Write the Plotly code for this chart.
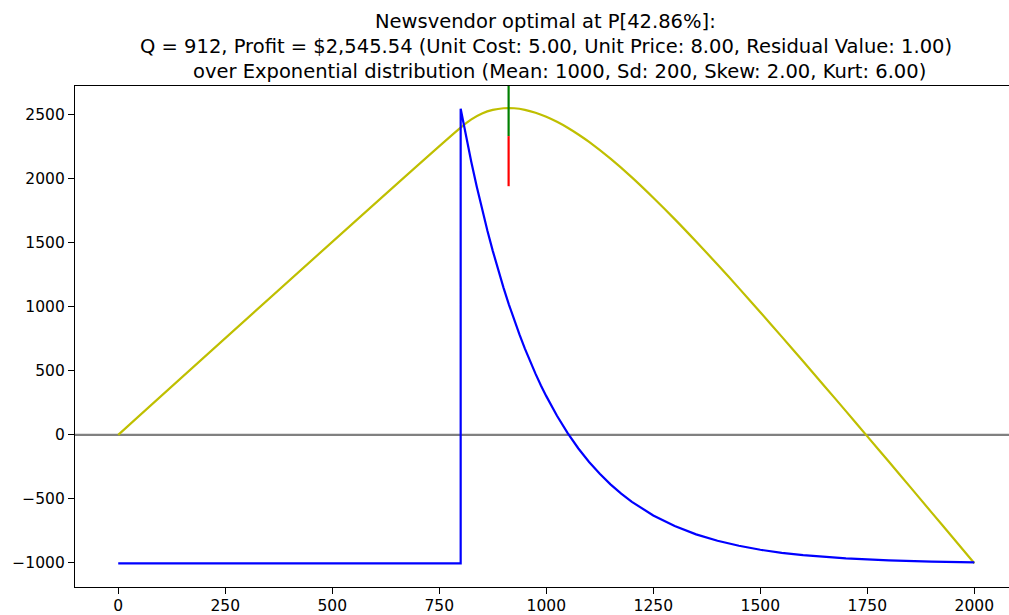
import plotly.graph_objects as go

# ---- data ----
q_profit = [0, 800, 825, 850, 875, 900, 925, 950, 975, 1000, 1025, 1050, 1075, 1100,
            1150, 1200, 1250, 1300, 1350, 1400, 1450, 1500, 1550, 1600, 1650, 1700,
            1750, 1800, 1850, 1900, 1950, 2000]
expected_profit = [0, 2400, 2464, 2510, 2538, 2551, 2551, 2539, 2516, 2485, 2445, 2399, 2346, 2288,
                   2157, 2011, 1852, 1685, 1510, 1330, 1146, 958, 767, 574, 380, 185,
                   -12, -209, -407, -606, -804, -1003]

q_demand = [0, 800, 800, 812.5, 825, 837.5, 850, 862.5, 875, 887.5, 900, 912.5, 925, 937.5,
            950, 962.5, 975, 987.5, 1000, 1025, 1050, 1075, 1100, 1125, 1150, 1175, 1200,
            1250, 1300, 1350, 1400, 1450, 1500, 1550, 1600, 1700, 1800, 1900, 2000]
demand_density_scaled = [-1005, -1005, 2548, 2333, 2130, 1940, 1762, 1594, 1437, 1289, 1150, 1019,
                         897, 782, 673, 572, 476, 386, 302, 149, 13, -107, -212, -305, -387, -460,
                         -524, -630, -713, -778, -828, -867, -898, -922, -940, -965, -981, -990, -996]

Q_OPT = 912
x_ticks = [0, 250, 500, 750, 1000, 1250, 1500, 1750, 2000]
y_ticks = [-1000, -500, 0, 500, 1000, 1500, 2000, 2500]
title_lines = [
    "Newsvendor optimal at P[42.86%]:",
    "Q = 912, Profit = $2,545.54 (Unit Cost: 5.00, Unit Price: 8.00, Residual Value: 1.00)",
    "over Exponential distribution (Mean: 1000, Sd: 200, Skew: 2.00, Kurt: 6.00)",
]

FONT = "DejaVu Sans"
W, H = 1009, 615
L, R, T, B = 75, 0, 86, 28
PW, PH = W - L - R, H - T - B

def px_x(p):
    return (p - L) / PW

def px_y(p):
    return (H - B - p) / PH

fig = go.Figure()
fig.add_trace(go.Scatter(x=q_profit, y=expected_profit, mode="lines",
                         line=dict(color="#bfbf00", width=2.2, shape="spline", smoothing=0.8),
                         showlegend=False))
fig.add_trace(go.Scatter(x=q_demand, y=demand_density_scaled, mode="lines",
                         line=dict(color="#0000ff", width=2.2), showlegend=False))

# zero line
fig.add_shape(type="line", xref="x domain", yref="y", x0=0, x1=1, y0=0, y1=0,
              line=dict(color="#808080", width=2.2), layer="below")
# optimal quantity markers
fig.add_shape(type="line", xref="x", yref="y domain", x0=Q_OPT, x1=Q_OPT, y0=0.9, y1=1.0,
              line=dict(color="#008000", width=2.2))
fig.add_shape(type="line", xref="x", yref="y domain", x0=Q_OPT, x1=Q_OPT, y0=0.8, y1=0.9,
              line=dict(color="#ff0000", width=2.2))

centers_x = [545, 546, 559]
centers_y = [22, 47, 72]
for txt, cx, cy in zip(title_lines, centers_x, centers_y):
    fig.add_annotation(text=txt, xref="paper", yref="paper",
                       x=px_x(cx), y=px_y(cy), xanchor="center", yanchor="middle",
                       showarrow=False, font=dict(family=FONT, size=19.5, color="#000000"))

fig.update_layout(
    width=W, height=H,
    margin=dict(l=L, r=R, t=T, b=B, autoexpand=False),
    paper_bgcolor="white", plot_bgcolor="white",
    font=dict(family=FONT, size=15.5, color="#000000"),
    showlegend=False,
)
fig.update_xaxes(range=[-101, 2081], tickvals=x_ticks, ticks="outside", ticklen=6,
                 tickcolor="black", tickwidth=1.2, showgrid=False, zeroline=False,
                 showline=True, linecolor="black", linewidth=1.2, mirror=True,
                 ticklabelstandoff=-2,
                 automargin=False, tickfont=dict(family=FONT, size=15.5, color="black"))
fig.update_yaxes(range=[-1189, 2725], tickvals=y_ticks, ticks="outside", ticklen=6,
                 tickcolor="black", tickwidth=1.2, showgrid=False, zeroline=False,
                 showline=True, linecolor="black", linewidth=1.2,
                 automargin=False, tickfont=dict(family=FONT, size=15.5, color="black"))

fig.write_html("out.html")
